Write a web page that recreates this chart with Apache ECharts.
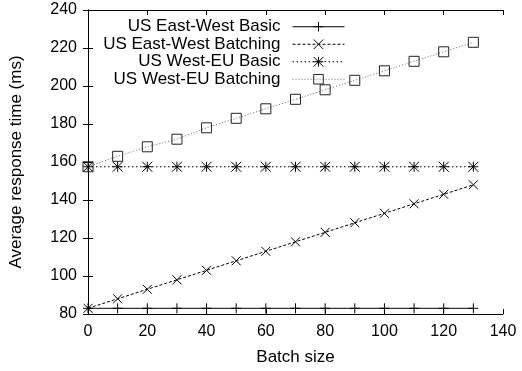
<!DOCTYPE html>
<html>
<head>
<meta charset="utf-8">
<script src="https://cdn.jsdelivr.net/npm/echarts@6/dist/echarts.min.js"></script>
<style>
  html, body { margin: 0; padding: 0; background: #fff; }
  #chart { width: 522px; height: 371px; }
</style>
</head>
<body>
<div id="chart"></div>
<script>
// Batch sizes on the x axis
const batchSizes = [0, 10, 20, 30, 40, 50, 60, 70, 80, 90, 100, 110, 120, 130];

// Average response time (ms) per configuration
const eastWestBasic    = [83, 83, 83, 83, 83, 83, 83, 83, 83, 83, 83, 83, 83, 83];
const eastWestBatching = [83, 88, 93, 98, 103, 108, 113, 118, 123, 128, 133, 138, 143, 148];
const westEuBasic      = [157.5, 157.5, 157.5, 157.5, 157.5, 157.5, 157.5, 157.5, 157.5, 157.5, 157.5, 157.5, 157.5, 157.5];
const westEuBatching   = [157.5, 163, 168, 172, 178, 183, 188, 193, 198, 203, 208, 213, 218, 223];

const seriesNames = [
  'US East-West Basic',
  'US East-West Batching',
  'US West-EU Basic',
  'US West-EU Batching'
];

// Axis ranges and tick steps
const xRange = { min: 0, max: 140, interval: 20 };
const yRange = { min: 80, max: 240, interval: 20 };

const FONT = '"Liberation Sans", Arial, Helvetica, sans-serif';

// Point glyphs: plus, cross, asterisk, open square
const glyphs = {
  plus: 'path://M0,5L10,5M5,0L5,10',
  cross: 'path://M0,0L10,10M10,0L0,10',
  star: 'path://M0,5L10,5M5,0L5,10M0,0L10,10M10,0L0,10',
  square: 'path://M0,0L10,0L10,10L0,10Z'
};

function pairs(ys) {
  return batchSizes.map((x, i) => [x, ys[i]]);
}

function makeSeries(name, ys, glyph, size, lineColor, dash, markColor) {
  return {
    name: name,
    type: 'line',
    data: pairs(ys),
    symbol: glyph,
    symbolSize: size,
    showSymbol: true,
    clip: false,
    lineStyle: { color: lineColor, width: 1, type: dash },
    itemStyle: { color: 'none', borderColor: markColor, borderWidth: 1 },
    emphasis: { disabled: true },
    z: 3
  };
}

const frameAxis = {
  axisLine: { show: true, lineStyle: { color: '#000', width: 1 } },
  axisTick: { show: true, inside: true, length: 5, lineStyle: { color: '#000', width: 1 } },
  splitLine: { show: false }
};

const chart = echarts.init(document.getElementById('chart'), null, { renderer: 'canvas' });

chart.setOption({
  animation: false,
  backgroundColor: '#fff',
  textStyle: { fontFamily: FONT },
  grid: { left: 88, right: 19, top: 10, bottom: 57, containLabel: false },
  legend: {
    orient: 'vertical',
    align: 'right',
    right: 177,
    top: 18,
    padding: 0,
    itemGap: 0,
    itemWidth: 52,
    itemHeight: 12,
    selectedMode: false,
    data: seriesNames,
    lineStyle: { width: 1 },
    itemStyle: { borderWidth: 1 },
    textStyle: {
      fontFamily: FONT,
      fontSize: 17,
      color: '#000',
      lineHeight: 17.5,
      padding: [0, 7, 0, 0]
    }
  },
  xAxis: [
    Object.assign({
      type: 'value',
      position: 'bottom',
      min: xRange.min, max: xRange.max, interval: xRange.interval,
      name: 'Batch size',
      nameLocation: 'middle',
      nameGap: 35,
      nameTextStyle: { fontFamily: FONT, fontSize: 17, color: '#000' },
      axisLabel: { fontFamily: FONT, fontSize: 16, color: '#000', margin: 10 }
    }, frameAxis),
    Object.assign({
      type: 'value',
      position: 'top',
      min: xRange.min, max: xRange.max, interval: xRange.interval,
      axisLabel: { show: false }
    }, frameAxis)
  ],
  yAxis: [
    Object.assign({
      type: 'value',
      position: 'left',
      min: yRange.min, max: yRange.max, interval: yRange.interval,
      name: 'Average response time (ms)',
      nameLocation: 'middle',
      nameGap: 63,
      nameTextStyle: { fontFamily: FONT, fontSize: 17, color: '#000' },
      axisLabel: { fontFamily: FONT, fontSize: 16, color: '#000', margin: 11 }
    }, frameAxis),
    Object.assign({
      type: 'value',
      position: 'right',
      min: yRange.min, max: yRange.max, interval: yRange.interval,
      axisLabel: { show: false }
    }, frameAxis)
  ],
  series: [
    makeSeries(seriesNames[0], eastWestBasic, glyphs.plus, 10, '#000', 'solid', '#000'),
    makeSeries(seriesNames[1], eastWestBatching, glyphs.cross, 9, '#000', [3, 2], '#000'),
    makeSeries(seriesNames[2], westEuBasic, glyphs.star, 10, '#000', [1.5, 2.5], '#000'),
    makeSeries(seriesNames[3], westEuBatching, glyphs.square, 10, '#666', [1, 2], '#222')
  ]
});
</script>
</body>
</html>
